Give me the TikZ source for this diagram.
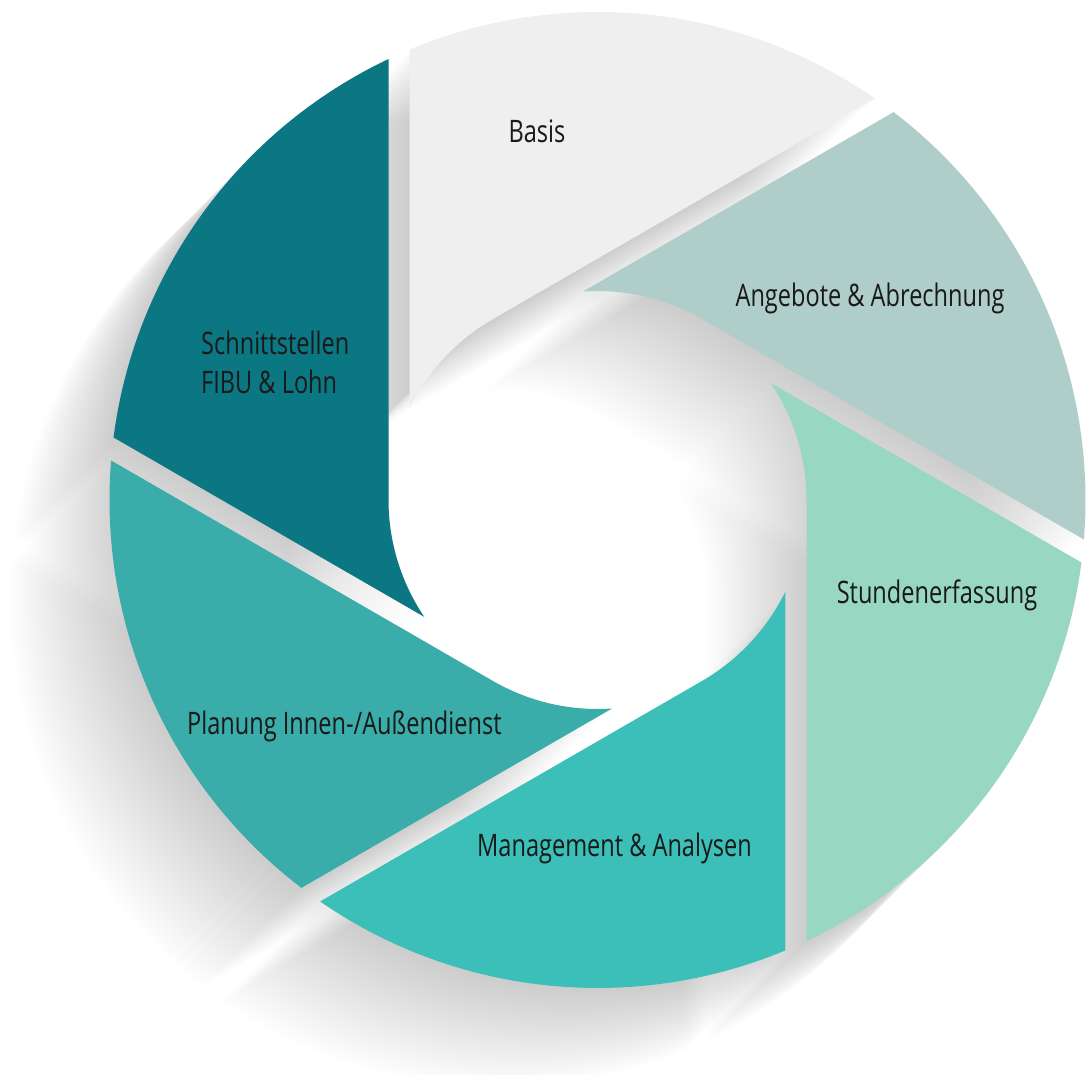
\documentclass[tikz,border=0pt]{standalone}
\usepackage{fontspec}
\setmainfont{Open Sans}[FakeStretch=0.76]
\definecolor{cBasis}{HTML}{EFEFEF}
\definecolor{cAngebote}{HTML}{B0CEC9}
\definecolor{cStunden}{HTML}{98D7C1}
\definecolor{cManagement}{HTML}{3BBFB8}
\definecolor{cPlanung}{HTML}{3AACA9}
\definecolor{cSchnitt}{HTML}{0B7783}
\newcommand{\bladeshape}{(-64.64:488) -- (0:209) arc[start angle=0,end angle=34,radius=209] -- (-7.36:488) arc[start angle=-7.36,end angle=-64.64,radius=488] -- cycle}
\tikzset{
  shadowlayer/.style={fill=black,opacity=0.0047},
  lbl/.style={inner sep=0pt,font=\fontsize{31}{39}\selectfont,text=black!90},
}
\begin{document}
\begin{tikzpicture}[x=1pt,y=1pt]
\useasboundingbox (0,0) rectangle (1089,1075);
\clip (0,0) rectangle (1089,1075);
\fill[white] (0,0) rectangle (1089,1075);
% long shadow toward lower left
\foreach \k in {1,...,50}{
  \foreach \a in {0,60,...,300}{
    \fill[shadowlayer,shift={({597.5-2*\k},{575-2*\k})},rotate=\a] \bladeshape;
  }
}
% blades
\fill[cStunden,shift={(597.5,575)},rotate=0] \bladeshape;
\fill[cAngebote,shift={(597.5,575)},rotate=60] \bladeshape;
\fill[cBasis,shift={(597.5,575)},rotate=120] \bladeshape;
\fill[cSchnitt,shift={(597.5,575)},rotate=180] \bladeshape;
\fill[cPlanung,shift={(597.5,575)},rotate=240] \bladeshape;
\fill[cManagement,shift={(597.5,575)},rotate=300] \bladeshape;
% labels
\node[lbl,anchor=base] (basis) at (537,932) {Basis};
\node[lbl,anchor=base] (angebote) at (870,768) {Angebote \& Abrechnung};
\node[lbl,anchor=base] (stunden) at (937,471) {Stundenerfassung};
\node[lbl,anchor=base] (management) at (614.5,218) {Management \& Analysen};
\node[lbl,anchor=base west] (planung) at (187,340) {Planung Innen-/Außendienst};
\node[lbl,anchor=base west,align=left] (schnitt) at (201,681) {Schnittstellen\\FIBU \& Lohn};
\end{tikzpicture}
\end{document}
